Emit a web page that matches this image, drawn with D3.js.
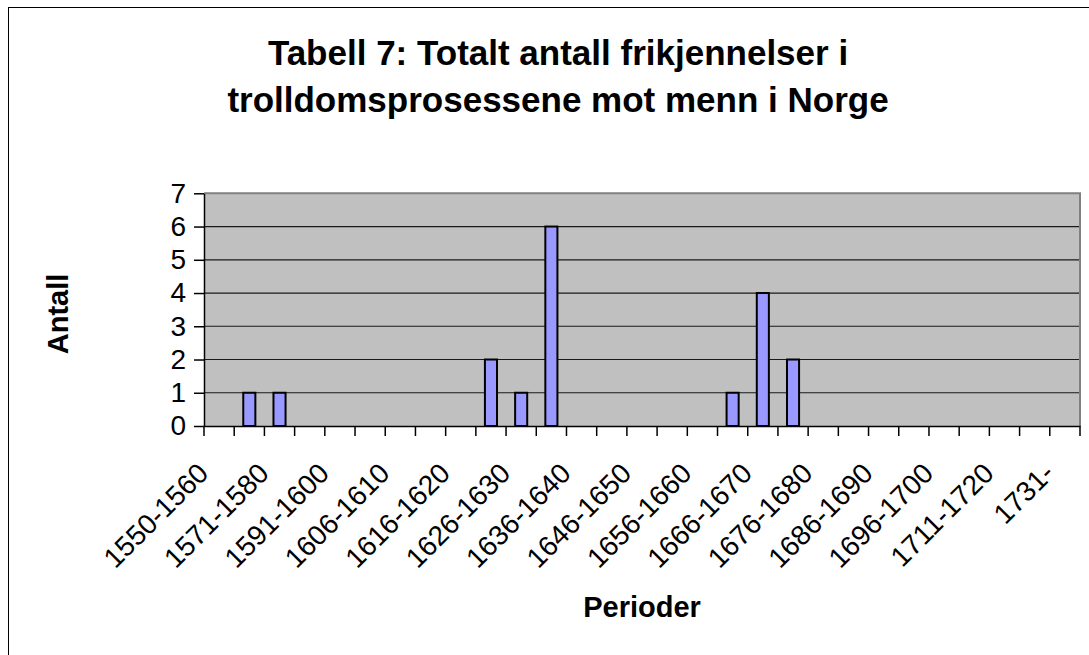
<!DOCTYPE html>
<html>
<head>
<meta charset="utf-8">
<script src="https://cdn.jsdelivr.net/npm/d3@7"></script>
<style>
    body { margin: 0; background: #fff; }
    svg { display: block; font-family: "Liberation Sans", Arial, sans-serif; }
</style>
</head>
<body>
<svg id="chart"></svg>
<script>
/* ==========================================================
   DATA — acquittals per period (men), every 2nd label shown
========================================================== */
const periods = [
    "1550-1560", "1561-1570", "1571-1580", "1581-1590", "1591-1600",
    "1601-1605", "1606-1610", "1611-1615", "1616-1620", "1621-1625",
    "1626-1630", "1631-1635", "1636-1640", "1641-1645", "1646-1650",
    "1651-1655", "1656-1660", "1661-1665", "1666-1670", "1671-1675",
    "1676-1680", "1681-1685", "1686-1690", "1691-1695", "1696-1700",
    "1701-1710", "1711-1720", "1721-1730", "1731-"
];
const values = [
    0, 1, 1, 0, 0,
    0, 0, 0, 0, 2,
    1, 6, 0, 0, 0,
    0, 0, 1, 4, 2,
    0, 0, 0, 0, 0,
    0, 0, 0, 0
];
const yTicks = [0, 1, 2, 3, 4, 5, 6, 7];
const titleLines = [
    "Tabell 7: Totalt antall frikjennelser i",
    "trolldomsprosessene mot menn i Norge"
];
const yTitle = "Antall";
const xTitle = "Perioder";

function drawChart() {
    const width = 1089;
    const height = 655;

    const svg = d3.select("#chart")
        .attr("width", width)
        .attr("height", height);

    svg.selectAll("*").remove();

    // plot area (Excel-style grey box)
    const left = 204, right = 1080, top = 193.3, bottom = 426;

    const x = d3.scaleBand()
        .domain(periods)
        .range([left, right])
        .padding(0);

    const y = d3.scaleLinear()
        .domain([0, 7])
        .range([bottom, top]);

    const data = periods.map((p, i) => ({ period: p, value: values[i] }));

    /* chart frame (only left + top edges fall inside the picture) */
    svg.append("rect")
        .attr("x", 8.5)
        .attr("y", 7.5)
        .attr("width", 1100)
        .attr("height", 700)
        .attr("fill", "#fff")
        .attr("stroke", "#000")
        .attr("stroke-width", 1);

    /* title */
    svg.append("text")
        .attr("x", 558)
        .attr("y", 65)
        .attr("text-anchor", "middle")
        .attr("font-size", 35)
        .attr("font-weight", "bold")
        .selectAll("tspan")
        .data(titleLines)
        .enter()
        .append("tspan")
        .attr("x", 558)
        .attr("dy", (d, i) => i === 0 ? 0 : 47)
        .text(d => d);

    /* plot background */
    svg.append("rect")
        .attr("x", left)
        .attr("y", top)
        .attr("width", right - left)
        .attr("height", bottom - top)
        .attr("fill", "#C0C0C0");

    /* gridlines */
    svg.selectAll(".grid")
        .data(yTicks.filter(t => t > 0 && t < 7))
        .enter()
        .append("line")
        .attr("class", "grid")
        .attr("x1", left)
        .attr("x2", right)
        .attr("y1", d => y(d))
        .attr("y2", d => y(d))
        .attr("stroke", "#1a1a1a")
        .attr("stroke-width", 1.2);

    // top + right border of plot area
    svg.append("path")
        .attr("d", `M${left},${top}H${right}V${bottom}`)
        .attr("fill", "none")
        .attr("stroke", "#808080")
        .attr("stroke-width", 2);

    /* bars */
    const barW = x.bandwidth() / 2.5;
    svg.selectAll(".bar")
        .data(data.filter(d => d.value > 0))
        .enter()
        .append("rect")
        .attr("class", "bar")
        .attr("x", d => x(d.period) + (x.bandwidth() - barW) / 2)
        .attr("y", d => y(d.value))
        .attr("width", barW)
        .attr("height", d => y(0) - y(d.value))
        .attr("fill", "#9999FF")
        .attr("stroke", "#000")
        .attr("stroke-width", 2);

    /* y axis */
    const yAxis = svg.append("g")
        .attr("transform", `translate(${left},0)`)
        .call(d3.axisLeft(y)
            .tickValues(yTicks)
            .tickFormat(d3.format("d"))
            .tickSize(10)
            .tickPadding(8)
            .tickSizeOuter(0));
    yAxis.select(".domain").attr("stroke", "#000").attr("stroke-width", 1.5);
    yAxis.selectAll(".tick line").attr("stroke", "#000").attr("stroke-width", 1.5);
    yAxis.selectAll(".tick text")
        .attr("font-family", "\"Liberation Sans\", Arial, sans-serif")
        .attr("font-size", 28)
        .attr("fill", "#000");

    /* x axis: line, boundary ticks, every second label */
    const xAxis = svg.append("g")
        .attr("transform", `translate(0,${bottom})`)
        .call(d3.axisBottom(x).tickSize(0).tickSizeOuter(0).tickFormat(""));
    xAxis.select(".domain").attr("stroke", "#000").attr("stroke-width", 1.5);

    const bounds = periods.map(p => x(p)).concat([right]);
    xAxis.selectAll(".bound")
        .data(bounds)
        .enter()
        .append("line")
        .attr("class", "bound")
        .attr("x1", d => d)
        .attr("x2", d => d)
        .attr("y1", 0)
        .attr("y2", 10)
        .attr("stroke", "#000")
        .attr("stroke-width", 1.5);

    svg.selectAll(".xlabel")
        .data(periods.filter((p, i) => i % 2 === 0))
        .enter()
        .append("text")
        .attr("class", "xlabel")
        .attr("transform", d => `translate(${x(d) + x.bandwidth() / 2 - 16},468) rotate(-45)`)
        .attr("text-anchor", "end")
        .attr("dy", "0.35em")
        .attr("font-size", 28)
        .attr("fill", "#000")
        .text(d => d);

    /* axis titles */
    svg.append("text")
        .attr("transform", `translate(68,314) rotate(-90)`)
        .attr("text-anchor", "middle")
        .attr("font-size", 29)
        .attr("font-weight", "bold")
        .text(yTitle);

    svg.append("text")
        .attr("x", (left + right) / 2)
        .attr("y", 617)
        .attr("text-anchor", "middle")
        .attr("font-size", 29)
        .attr("font-weight", "bold")
        .text(xTitle);
}

drawChart();
</script>
</body>
</html>
